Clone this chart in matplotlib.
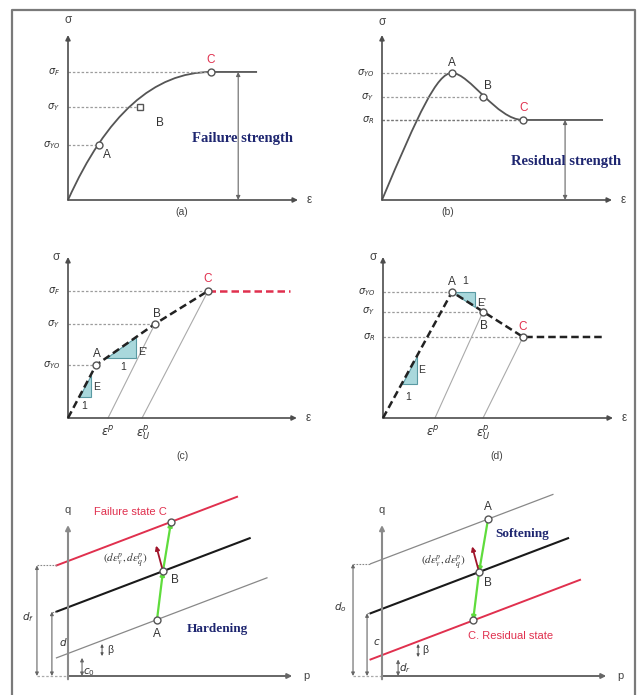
import matplotlib.pyplot as plt
from matplotlib.path import Path
from matplotlib.patches import PathPatch, Polygon
from matplotlib.lines import Line2D

plt.rcParams['font.family'] = ['Liberation Sans', 'DejaVu Sans']

W, H = 643, 695
SX, SY = 230, 165   # pixels per unit of strain / stress

# (a) hardening curve: sigma_YO, sigma_Y, sigma_F and strain at A, B, C
a_sig = [0.333, 0.564, 0.776]
a_eps = [0.135, 0.313, 0.622]
a_eps_end = 0.822
a_knee = 0.25
a_labels = [r'$\sigma_{YO}$', r'$\sigma_Y$', r'$\sigma_F$']

# (b) softening curve: sigma_YO, sigma_Y, sigma_R
b_sig = [0.770, 0.624, 0.485]
b_eps = [0.304, 0.439, 0.613]
b_eps_end = 0.961
b_labels = [r'$\sigma_{YO}$', r'$\sigma_Y$', r'$\sigma_R$']

# (c) bilinear hardening
c_sig = [0.321, 0.570, 0.770]
c_eps = [0.122, 0.378, 0.609]
c_eps_end = 0.965
c_eps_p = [0.174, 0.322]

# (d) bilinear softening
d_sig = [0.764, 0.645, 0.491]
d_eps = [0.300, 0.435, 0.609]
d_eps_end = 0.965
d_eps_p = [0.226, 0.435]

# (e)/(f) yield lines in p-q space: q = icpt + tan_beta * (p - p_start)
tan_beta = 0.53
p_start = -0.05
e_icpt = [0.11, 0.39, 0.67]      # line through A, B, failure line (C)
e_pend = [0.865, 0.79, 0.735]
e_p = [0.387, 0.413, 0.448]
f_icpt = [0.68, 0.38, 0.10]      # peak line (A), B, residual line (C)
f_pend = [0.743, 0.809, 0.861]
f_p = [0.461, 0.422, 0.396]

INK = '#4d4d4d'
GRID = '#9c9c9c'
RED = '#e0304e'
NAVY = '#1e2670'
TEAL = '#a9d8dc'
GREEN = '#5fdc3c'

fig = plt.figure(figsize=(W / 100, H / 100), dpi=100)

# outer frame (open at the bottom)
frame_x = [12 / W, 12 / W, 635 / W, 635 / W]
frame_y = [0, 1 - 10 / H, 1 - 10 / H, 0]
fig.add_artist(Line2D(frame_x, frame_y, transform=fig.transFigure, color='#7a7a7a', lw=1.6))


def panel(ox, oy, xr, yr):
    x0, x1 = xr
    y0, y1 = yr
    ax = fig.add_axes([(ox + x0 * SX) / W, 1 - (oy - y0 * SY) / H,
                       (x1 - x0) * SX / W, (y1 - y0) * SY / H])
    ax.set_xlim(x0, x1)
    ax.set_ylim(y0, y1)
    ax.axis('off')
    return ax


def arrow(ax, start, end, color=INK, lw=1.2, style='-|>', ms=7):
    ax.annotate('', xy=end, xytext=start,
                arrowprops=dict(arrowstyle=style, color=color, lw=lw,
                                mutation_scale=ms, shrinkA=0, shrinkB=0))


def frame(ax, xmax, ymax, xl, yl, yl_xy):
    arrow(ax, (0, 0), (xmax, 0))
    arrow(ax, (0, 0), (0, ymax))
    ax.text(xmax + 0.05, 0, xl, ha='center', va='center', fontsize=8.5, color='#444')
    ax.text(*yl_xy, yl, ha='center', va='center', fontsize=8.5, color='#444')


def levels(ax, sig, eps, labels):
    for s, e, lab in zip(sig, eps, labels):
        ax.plot([0, e], [s, s], color=GRID, lw=0.9, ls=(0, (2, 1.5)))
        ax.text(-0.035, s, lab, ha='right', va='center', fontsize=7, color='#333')


def points(ax, xs, ys, marker='o'):
    ax.plot(xs, ys, ls='none', marker=marker, ms=5, mfc='white', mec='#555',
            mew=1, zorder=6)


def tag(ax, xy, s, off, color='#333', size=8.5):
    ax.annotate(s, xy=xy, xytext=off, textcoords='offset pixels', ha='center',
                va='center', fontsize=size, color=color)


def slope_tri(ax, p, q, x1, x2):
    # right triangle under the line through p and q, spanning x1..x2
    k = (q[1] - p[1]) / (q[0] - p[0])
    f = lambda x: p[1] + k * (x - p[0])
    ax.add_patch(Polygon([(x1, f(x1)), (x2, f(x1)), (x2, f(x2))], closed=True,
                         fc=TEAL, ec='#5a9aa3', lw=0.8, zorder=2))


# ---------------- (a) ----------------
ax = panel(68, 200, (-0.25, 1.12), (-0.15, 1.15))
frame(ax, 1.0, 1.0, 'ε', 'σ', (0, 1.09))
levels(ax, a_sig, a_eps, a_labels)
curve = Path([(0, 0), (a_knee, a_sig[2]), (a_eps[2], a_sig[2]), (a_eps_end, a_sig[2])],
             [Path.MOVETO, Path.CURVE3, Path.CURVE3, Path.LINETO])
ax.add_patch(PathPatch(curve, fc='none', ec='#555', lw=1.3))
points(ax, [a_eps[0], a_eps[2]], [a_sig[0], a_sig[2]])
points(ax, [a_eps[1]], [a_sig[1]], marker='s')
tag(ax, (a_eps[0], a_sig[0]), 'A', (8, -10))
tag(ax, (a_eps[1], a_sig[1]), 'B', (20, -16))
tag(ax, (a_eps[2], a_sig[2]), 'C', (0, 12), color=RED)
arrow(ax, (0.74, 0), (0.74, a_sig[2]), color='#666', lw=0.8, style='<|-|>', ms=6)
ax.text(0.757, 0.37, 'Failure strength', ha='center', va='center', fontsize=10.5,
        color=NAVY, family='Liberation Serif', weight='bold')
ax.text(0.496, -0.073, '(a)', ha='center', va='center', fontsize=7.5, color='#444')

# ---------------- (b) ----------------
ax = panel(382, 200, (-0.26, 1.12), (-0.15, 1.15))
frame(ax, 1.0, 1.0, 'ε', 'σ', (0, 1.08))
levels(ax, b_sig, b_eps, b_labels)
ax.plot([0, b_eps[2]], [b_sig[2], b_sig[2]], color='#777', lw=0.9, ls=(0, (2, 1.5)))
A, C = (b_eps[0], b_sig[0]), (b_eps[2], b_sig[2])
curve = Path([(0, 0), (0.16, 0.53), (0.24, b_sig[0]), A,
              (0.38, b_sig[0]), (0.50, b_sig[2]), C, (b_eps_end, b_sig[2])],
             [Path.MOVETO] + [Path.CURVE4] * 6 + [Path.LINETO])
ax.add_patch(PathPatch(curve, fc='none', ec='#555', lw=1.3))
points(ax, b_eps, b_sig)
tag(ax, (b_eps[0], b_sig[0]), 'A', (0, 10))
tag(ax, (b_eps[1], b_sig[1]), 'B', (5, 11))
tag(ax, (b_eps[2], b_sig[2]), 'C', (1, 12), color=RED)
arrow(ax, (0.796, 0), (0.796, b_sig[2]), color='#666', lw=0.8, style='<|-|>', ms=6)
ax.text(0.8, 0.236, 'Residual strength', ha='center', va='center', fontsize=10.5,
        color=NAVY, family='Liberation Serif', weight='bold')
ax.text(0.287, -0.073, '(b)', ha='center', va='center', fontsize=7.5, color='#444')

# ---------------- (c) ----------------
ax = panel(68, 418, (-0.25, 1.12), (-0.3, 1.1))
frame(ax, 0.995, 0.976, 'ε', 'σ', (-0.05, 0.976))
levels(ax, c_sig, c_eps, [r'$\sigma_{YO}$', r'$\sigma_Y$', r'$\sigma_F$'])
ax.plot([c_eps_p[0], c_eps[1]], [0, c_sig[1]], color='#aaa', lw=0.8)
ax.plot([c_eps_p[1], c_eps[2]], [0, c_sig[2]], color='#aaa', lw=0.8)
slope_tri(ax, (0, 0), (c_eps[0], c_sig[0]), 0.049, 0.10)
slope_tri(ax, (c_eps[0], c_sig[0]), (c_eps[1], c_sig[1]), 0.166, 0.296)
ax.plot([0] + c_eps, [0] + c_sig, color='#222', lw=1.8, ls=(0, (3, 1.6)), zorder=4)
ax.plot([c_eps[2], c_eps_end], [c_sig[2], c_sig[2]], color=RED, lw=1.8,
        ls=(0, (3, 1.6)), zorder=4)
points(ax, c_eps, c_sig)
tag(ax, (c_eps[0], c_sig[0]), 'A', (1, 11))
tag(ax, (c_eps[1], c_sig[1]), 'B', (2, 10))
tag(ax, (c_eps[2], c_sig[2]), 'C', (0, 12), color=RED)
ax.text(0.125, 0.19, 'E', ha='center', va='center', fontsize=7.5, color='#333')
ax.text(0.07, 0.07, '1', ha='center', va='center', fontsize=7.5, color='#333')
ax.text(0.325, 0.40, "E'", ha='center', va='center', fontsize=7.5, color='#333')
ax.text(0.24, 0.31, '1', ha='center', va='center', fontsize=7.5, color='#333')
ax.text(c_eps_p[0], -0.085, r'$\varepsilon^p$', ha='center', va='center', fontsize=8.5,
        color='#333')
ax.text(c_eps_p[1] + 0.004, -0.085, r'$\varepsilon^p_U$', ha='center', va='center',
        fontsize=8.5, color='#333')
ax.text(0.496, -0.23, '(c)', ha='center', va='center', fontsize=7.5, color='#444')

# ---------------- (d) ----------------
ax = panel(383, 418, (-0.26, 1.12), (-0.3, 1.1))
frame(ax, 1.0, 0.976, 'ε', 'σ', (-0.045, 0.976))
levels(ax, d_sig, d_eps, [r'$\sigma_{YO}$', r'$\sigma_Y$', r'$\sigma_R$'])
ax.plot([d_eps_p[0], d_eps[1]], [0, d_sig[1]], color='#aaa', lw=0.8)
ax.plot([d_eps_p[1], d_eps[2]], [0, d_sig[2]], color='#aaa', lw=0.8)
slope_tri(ax, (0, 0), (d_eps[0], d_sig[0]), 0.081, 0.148)
slope_tri(ax, (d_eps[0], d_sig[0]), (d_eps[2], d_sig[2]), d_eps[0], 0.40)
ax.plot([0, d_eps[0], d_eps[2], d_eps_end], [0, d_sig[0], d_sig[2], d_sig[2]],
        color='#222', lw=1.8, ls=(0, (3, 1.6)), zorder=4)
points(ax, d_eps, d_sig)
tag(ax, (d_eps[0], d_sig[0]), 'A', (0, 10))
tag(ax, (d_eps[1], d_sig[1]), 'B', (1, -14))
tag(ax, (d_eps[2], d_sig[2]), 'C', (0, 10), color=RED)
ax.text(0.168, 0.29, 'E', ha='center', va='center', fontsize=7.5, color='#333')
ax.text(0.11, 0.13, '1', ha='center', va='center', fontsize=7.5, color='#333')
ax.text(0.43, 0.70, "E'", ha='center', va='center', fontsize=7.5, color='#333')
ax.text(0.355, 0.83, '1', ha='center', va='center', fontsize=7.5, color='#333')
ax.text(d_eps_p[0] - 0.01, -0.085, r'$\varepsilon^p$', ha='center', va='center',
        fontsize=8.5, color='#333')
ax.text(d_eps_p[1], -0.085, r'$\varepsilon^p_U$', ha='center', va='center',
        fontsize=8.5, color='#333')
ax.text(0.496, -0.23, '(d)', ha='center', va='center', fontsize=7.5, color='#444')


# ---------------- (e) / (f) ----------------
def pq_panel(ox, icpt, pend, pts, colors, dims, texts):
    ax = panel(ox, 676, (-0.25, 1.12), (-0.12, 1.2))
    # baseline and axes
    ax.plot([dims[0][0], 0], [0, 0], color='#aaa', lw=0.9, ls=(0, (2, 1.5)))
    arrow(ax, (0, 0), (0.975, 0), color='#666', lw=1.4)
    arrow(ax, (0, -0.02), (0, 0.915), color='#8a8a8a', lw=1.5)
    ax.text(0, 1.006, 'q', ha='center', va='center', fontsize=8, color='#444')
    ax.text(1.035, 0, 'p', ha='center', va='center', fontsize=8, color='#444')
    # yield lines
    for c, pe, col, lw in zip(icpt, pend, colors, [0.9, 1.5, 1.4]):
        ax.plot([p_start, pe], [c, c + tan_beta * (pe - p_start)], color=col, lw=lw)
    qs = [c + tan_beta * (p - p_start) for p, c in zip(pts, icpt)]
    # dimension arrows
    for (x, top, lab, lx, ly) in dims:
        arrow(ax, (x, 0), (x, top), color='#666', lw=0.8, style='<|-|>', ms=5)
        if x < p_start:
            ax.plot([x, p_start], [top, top], color='#888', lw=0.8, ls=(0, (1.5, 1.2)))
        ax.text(lx, ly, lab, ha='center', va='center', fontsize=7.5, color='#333')
    # state path and plastic strain increment
    arrow(ax, (pts[0], qs[0]), (pts[1], qs[1]), color=GREEN, lw=1.6, ms=6)
    arrow(ax, (pts[1], qs[1]), (pts[2], qs[2]), color=GREEN, lw=1.6, ms=6)
    arrow(ax, (pts[1], qs[1]), (pts[1] - 0.03, qs[1] + 0.155), color='#a0142a', lw=1.3, ms=6)
    points(ax, pts, qs)
    for s, x, y, kw in texts:
        ax.text(x, y, s, ha='center', va='center', **kw)
    return ax, qs


serif_it = dict(fontsize=8, color='#333', math_fontfamily='stix')
nav = dict(fontsize=9.5, color=NAVY, family='Liberation Serif', weight='bold')
red = dict(fontsize=8, color=RED)
inc = r'$(d\varepsilon^p_v, d\varepsilon^p_q)$'

ax, qs = pq_panel(68, e_icpt, e_pend, e_p, ['#888', '#1a1a1a', RED],
                  [(-0.135, e_icpt[2], r'$d_f$', -0.174, 0.358),
                   (-0.07, e_icpt[1], r'$d$', -0.022, 0.206),
                   (0.061, e_icpt[0], r'$c_0$', 0.092, 0.025)],
                  [('Failure state C', 0.27, 0.994, red), ('Hardening', 0.648, 0.285, nav),
                   (inc, 0.248, 0.703, serif_it)])
arrow(ax, (0.148, 0.121), (0.148, 0.194), color='#555', lw=0.7, style='<|-|>', ms=4)
ax.text(0.183, 0.158, 'β', ha='center', va='center', fontsize=7.5, color='#333')
tag(ax, (e_p[0], qs[0]), 'A', (0, -14))
tag(ax, (e_p[1], qs[1]), 'B', (12, -9))

ax, qs = pq_panel(382, f_icpt, f_pend, f_p, ['#888', '#1a1a1a', RED],
                  [(-0.126, f_icpt[0], r'$d_o$', -0.183, 0.418),
                   (-0.065, f_icpt[1], r'$c$', -0.022, 0.206),
                   (0.07, f_icpt[2], r'$d_r$', 0.1, 0.05)],
                  [('C. Residual state', 0.557, 0.242, red), ('Softening', 0.609, 0.86, nav),
                   (inc, 0.265, 0.69, serif_it)])
arrow(ax, (0.157, 0.115), (0.157, 0.194), color='#555', lw=0.7, style='<|-|>', ms=4)
ax.text(0.19, 0.158, 'β', ha='center', va='center', fontsize=7.5, color='#333')
tag(ax, (f_p[0], qs[0]), 'A', (0, 12))
tag(ax, (f_p[1], qs[1]), 'B', (9, -11))

fig.savefig('out.png', dpi=100, facecolor='white')
